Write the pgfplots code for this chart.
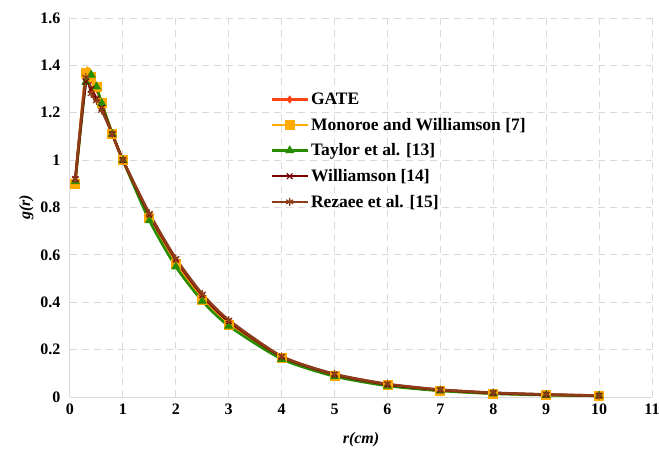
\documentclass[border=0pt]{standalone}
\usepackage{pgfplots}
\pgfplotsset{compat=1.18}
\usepackage{fontspec}
\setmainfont{Liberation Serif}
\definecolor{cgate}{RGB}{255,69,20}
\definecolor{cmon}{RGB}{255,170,0}
\definecolor{ctay}{RGB}{40,140,0}
\definecolor{cwil}{RGB}{120,0,0}
\definecolor{crez}{RGB}{140,60,25}
\begin{document}
\begin{tikzpicture}
\useasboundingbox (-70pt,-51pt) rectangle (589pt,397pt);
\begin{axis}[
  scale only axis,
  width=582pt, height=379pt,
  xmin=0, xmax=11, ymin=0, ymax=1.6,
  xtick={0,1,...,11},
  ytick={0,0.2,...,1.6},
  axis x line*=bottom, axis y line*=left,
  axis line style={gray!30, line width=1pt, -},
  major tick length=0pt,
  grid=major,
  major grid style={gray!30, line width=1pt, dash pattern=on 7pt off 5pt},
  /pgf/number format/assume math mode=true,
  ticklabel style={font=\fontsize{16}{18}\selectfont\bfseries},
  xticklabel style={yshift=-3pt},
  yticklabel style={xshift=-6pt},
  xlabel={\textbf{\textit{r(cm)}}},
  ylabel={\textbf{\textit{g(r)}}},
  label style={font=\fontsize{16}{18}\selectfont},
  xlabel style={yshift=-11pt},
  ylabel style={yshift=0pt},
  legend cell align=left,
  legend style={at={(0.344,0.808)}, anchor=north west, draw=none, fill=none,
    font=\fontsize{17.5}{19}\selectfont\bfseries, row sep=8pt, inner sep=0pt},
  legend image code/.code={\draw[mark repeat=2,mark phase=2] plot coordinates {(0pt,0pt) (18pt,0pt) (36pt,0pt)};},
  every axis plot/.append style={line width=2.6pt, smooth, tension=0.4},
]
\addplot[cgate, mark=diamond*, mark size=3.5pt, mark options={solid, line width=0.8pt}] coordinates {
(0.1,0.91) (0.3,1.37) (0.4,1.34) (0.5,1.30) (0.6,1.24) (0.8,1.11) (1,1.0) (1.5,0.76) (2,0.565) (2.5,0.42) (3,0.31) (4,0.167) (5,0.092) (6,0.05) (7,0.028) (8,0.016) (9,0.009) (10,0.005)};
\addlegendentry{GATE}
\addplot[cmon, mark=square*, mark size=4.5pt, mark options={solid, line width=0.8pt}] coordinates {
(0.1,0.90) (0.3,1.37) (0.4,1.35) (0.5,1.31) (0.6,1.24) (0.8,1.11) (1,1.0) (1.5,0.755) (2,0.56) (2.5,0.41) (3,0.305) (4,0.163) (5,0.09) (6,0.05) (7,0.027) (8,0.015) (9,0.009) (10,0.005)};
\addlegendentry{Monoroe and Williamson [7]}
\addplot[ctay, mark=triangle*, mark size=4.5pt, mark options={solid, line width=0.8pt}] coordinates {
(0.1,0.91) (0.3,1.33) (0.4,1.36) (0.5,1.31) (0.6,1.24) (0.8,1.11) (1,1.0) (1.5,0.745) (2,0.55) (2.5,0.405) (3,0.30) (4,0.16) (5,0.087) (6,0.047) (7,0.026) (8,0.014) (9,0.008) (10,0.005)};
\addlegendentry{Taylor et al. [13]}
\addplot[cwil, mark=x, mark size=4pt, mark options={solid, line width=1.2pt}] coordinates {
(0.1,0.92) (0.3,1.33) (0.4,1.30) (0.5,1.26) (0.6,1.22) (0.8,1.11) (1,1.0) (1.5,0.77) (2,0.58) (2.5,0.43) (3,0.32) (4,0.17) (5,0.095) (6,0.053) (7,0.03) (8,0.017) (9,0.01) (10,0.006)};
\addlegendentry{Williamson [14]}
\addplot[crez, mark=asterisk, mark size=4pt, mark options={solid, line width=1.2pt}] coordinates {
(0.1,0.92) (0.3,1.35) (0.4,1.28) (0.5,1.25) (0.6,1.21) (0.8,1.11) (1,1.0) (1.5,0.775) (2,0.585) (2.5,0.435) (3,0.325) (4,0.172) (5,0.097) (6,0.055) (7,0.031) (8,0.018) (9,0.011) (10,0.006)};
\addlegendentry{Rezaee et al. [15]}
\end{axis}
\end{tikzpicture}
\end{document}
